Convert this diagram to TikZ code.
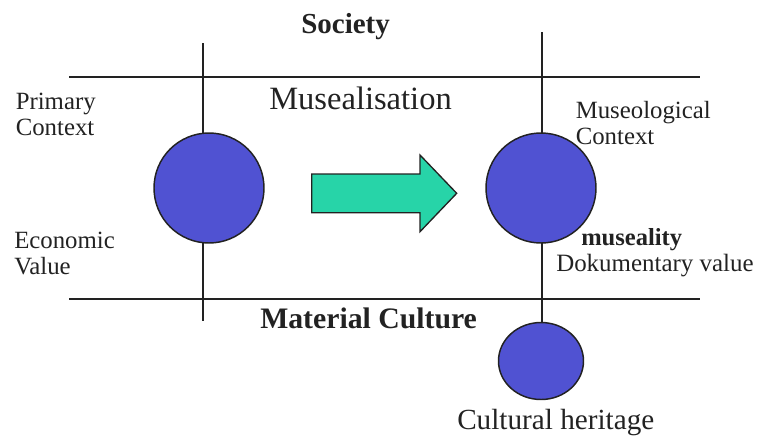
\documentclass[tikz,border=0pt]{standalone}
\usepackage{fontspec}
\setmainfont{Liberation Serif}
\usetikzlibrary{backgrounds,shapes.geometric}
\definecolor{ink}{HTML}{222222}
\definecolor{ballblue}{HTML}{5052D2}
\definecolor{arrowgreen}{HTML}{27D4A8}
\begin{document}
\begin{tikzpicture}[x=0.75pt,y=-0.75pt,
  rule/.style={draw=ink,line width=1.5pt},
  ball/.style={circle,draw=ink,line width=1.1pt,fill=ballblue,inner sep=0pt},
  oval/.style={ellipse,draw=ink,line width=1.1pt,fill=ballblue,inner sep=0pt},
  bigarrow/.style={draw=ink,line width=1pt,fill=arrowgreen,line join=miter},
  lbl/.style={anchor=base west,inner sep=0pt,text=ink,align=left,font=\fontsize{18.6}{19.3}\selectfont},
  bold/.style={anchor=base west,inner sep=0pt,text=ink,font=\fontsize{#1}{#1}\selectfont\bfseries},
  big/.style={anchor=base west,inner sep=0pt,text=ink,font=\fontsize{#1}{#1}\selectfont}]
\useasboundingbox (0,0) rectangle (757,436);
% objects
\node[ball,minimum size=82.5pt] (objA) at (209,188) {};
\node[ball,minimum size=82.5pt] (objB) at (541,188) {};
\node[oval,minimum width=63.75pt,minimum height=57.75pt] (heritage) at (541,361) {};
% lines
\coordinate (topL) at (69,77);
\coordinate (topR) at (700,77);
\coordinate (botL) at (69,299);
\coordinate (botR) at (700,299);
\coordinate (vAtop) at (203,43);
\coordinate (vAbot) at (203,321);
\coordinate (vBtop) at (542,32);
\begin{scope}[on background layer]
\draw[rule] (topL) -- (topR);
\draw[rule] (botL) -- (botR);
\draw[rule] (vAtop) -- (vAbot);
\draw[rule] (vBtop) -- (vBtop |- heritage.north);
\end{scope}
% arrow
\draw[bigarrow] (311.7,174) -- (420,174) -- (420,155) -- (456.7,193.3) -- (420,231.7) -- (420,212.7) -- (311.7,212.7) -- cycle;
% texts
\node[bold=21.75] (society) at (301,33) {Society};
\node[big=24.4] (musealisation) at (269,109.3) {Musealisation};
\node[lbl] (primary) at (15.5,135) {Primary\\Context};
\node[lbl] (economic) at (14,274.3) {Economic\\Value};
\node[lbl] (museological) at (575.5,144) {Museological\\Context};
\node[bold=18.4] (museality) at (581,245.7) {museality};
\node[big=18.7] (dokumentary) at (556,271.7) {Dokumentary value};
\node[bold=22.3] (material) at (260,328.3) {Material Culture};
\node[big=21.9] (cultural) at (457,429.5) {Cultural heritage};
\end{tikzpicture}
\end{document}
